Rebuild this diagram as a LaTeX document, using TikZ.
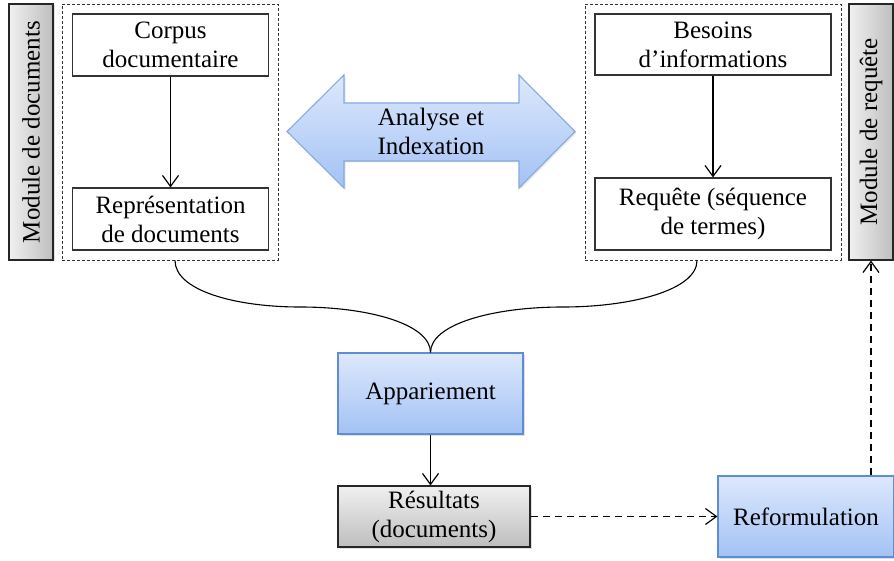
\documentclass[tikz,border=0pt]{standalone}
\usepackage{fontspec}
\setmainfont{Liberation Serif}
\usetikzlibrary{arrows.meta,shadows}
\definecolor{bluetop}{HTML}{DDE8FC}
\definecolor{bluebot}{HTML}{A3C2F5}
\definecolor{blueline}{HTML}{5F8DD3}
\definecolor{arrowline}{HTML}{86A9DE}
\definecolor{graytop}{HTML}{F0F0F0}
\definecolor{graybot}{HTML}{BEBEBE}
\tikzset{
  txt/.style={font=\fontsize{25}{29}\selectfont, align=center, inner sep=0pt},
  whitebox/.style={txt, draw=black!80, line width=1.1pt, fill=white},
  groupbox/.style={draw=black!80, dashed, dash pattern=on 3pt off 2pt, line width=0.9pt},
  bluebox/.style={txt, draw=blueline, line width=1.1pt, top color=bluetop, bottom color=bluebot,
    drop shadow={opacity=0.25, shadow xshift=1.5pt, shadow yshift=-1.5pt}},
  graybox/.style={txt, draw=black!85, line width=1.1pt, top color=graytop, bottom color=graybot,
    drop shadow={opacity=0.25, shadow xshift=1.5pt, shadow yshift=-1.5pt}},
  sidebar/.style={txt, draw=black!85, line width=1.1pt, left color=graytop, right color=graybot,
    drop shadow={opacity=0.25, shadow xshift=1.5pt, shadow yshift=-1.5pt}},
  arr/.style={line width=1.2pt, -{Straight Barb[length=11pt,width=16pt,line width=1.2pt]}},
  darr/.style={arr, dash pattern=on 7pt off 5pt},
  brace/.style={line width=1.1pt}
}
\begin{document}
\begin{tikzpicture}[x=1pt,y=-1pt]
\useasboundingbox (0,0) rectangle (894,561);
% left module
\node[sidebar, minimum width=44pt, minimum height=256pt] (bardoc) at (31,132) {\rotatebox{90}{Module de documents}};
\node[groupbox, minimum width=216pt, minimum height=256pt] (docgrp) at (170,132) {};
\node[whitebox, minimum width=196pt, minimum height=62pt] (corpus) at (170.5,45) {Corpus\\documentaire};
\node[whitebox, minimum width=196pt, minimum height=62pt] (repr) at (170.5,219) {Représentation\\de documents};
\draw[arr] (corpus) -- (repr);
% right module
\node[groupbox, minimum width=256pt, minimum height=256pt] (reqgrp) at (713,132) {};
\node[whitebox, minimum width=236pt, minimum height=61pt] (besoins) at (713,44.5) {Besoins\\d’informations};
\node[whitebox, minimum width=236pt, minimum height=72pt] (requete) at (713,214) {Requête (séquence\\de termes)};
\draw[arr] (besoins) -- (requete);
\node[sidebar, minimum width=44pt, minimum height=256pt] (barreq) at (871,132) {\rotatebox{90}{Module de requête}};
% double arrow
\path[draw=arrowline, line width=1.1pt, top color=bluetop, bottom color=bluebot,
      drop shadow={opacity=0.2, shadow xshift=1.5pt, shadow yshift=-1.5pt}]
  (287,131.5) -- (344,75) -- (344,103) -- (519,103) -- (519,75) -- (575,131.5)
  -- (519,188) -- (519,161) -- (344,161) -- (344,188) -- cycle;
\node[txt] (analyse) at (431,131.5) {Analyse et\\Indexation};
% matching
\node[bluebox, minimum width=185pt, minimum height=81pt] (appar) at (430.5,393.5) {Appariement};
\coordinate (tip) at (appar.north);
\draw[brace] ([xshift=5pt]docgrp.south) .. controls +(0,30) and (235,307) .. (300,307)
  .. controls (370,307) and ([yshift=28pt]tip) .. (tip);
\draw[brace] ([xshift=-16pt]reqgrp.south) .. controls +(0,30) and (630,307) .. (563,307)
  .. controls (492,307) and ([yshift=28pt]tip) .. (tip);
\node[graybox, minimum width=192pt, minimum height=61pt] (result) at (434,516.5) {Résultats\\(documents)};
\draw[arr] (appar.south) -- (appar.south |- result.north);
\node[bluebox, minimum width=176pt, minimum height=81pt] (reform) at (806,516.5) {Reformulation};
\draw[darr] (result.east) -- (reform.west);
\draw[darr] (reform.north -| barreq.south) -- (barreq.south);
\end{tikzpicture}
\end{document}
